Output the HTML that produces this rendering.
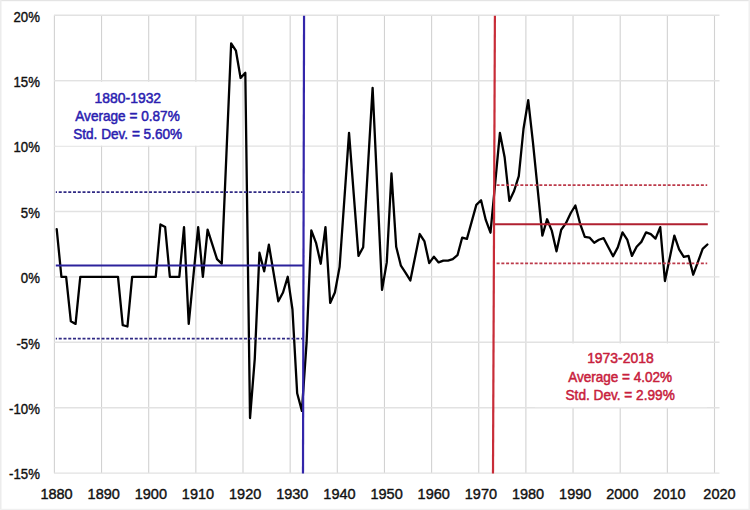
<!DOCTYPE html>
<html><head><meta charset="utf-8">
<style>
html,body{margin:0;padding:0;background:#fff;}
body{width:750px;height:510px;overflow:hidden;position:relative;}
svg{position:absolute;left:0;top:0;display:block;}
text{font-family:"Liberation Sans",sans-serif;}
</style></head><body>
<svg width="750" height="510" viewBox="0 0 750 510">
<rect x="0" y="0" width="750" height="510" fill="#ffffff"/>
<rect x="0" y="0" width="750" height="1.2" fill="#e4e4e4"/>
<rect x="0" y="0" width="1.5" height="510" fill="#ececec"/>
<rect x="0" y="508.8" width="750" height="1.2" fill="#f0f0f0"/>
<rect x="748.5" y="0" width="1.5" height="510" fill="#f0f0f0"/>
<g stroke="#d8d8d8" stroke-width="1.3" fill="none">
<line x1="54.40" y1="15.20" x2="54.40" y2="473.00" stroke="#d2d2d2" stroke-width="1.1"/>
<line x1="101.55" y1="15.20" x2="101.55" y2="473.00" stroke="#d2d2d2" stroke-width="1.1"/>
<line x1="148.70" y1="15.20" x2="148.70" y2="473.00" stroke="#d2d2d2" stroke-width="1.1"/>
<line x1="195.85" y1="15.20" x2="195.85" y2="473.00" stroke="#d2d2d2" stroke-width="1.1"/>
<line x1="243.00" y1="15.20" x2="243.00" y2="473.00" stroke="#d2d2d2" stroke-width="1.1"/>
<line x1="290.15" y1="15.20" x2="290.15" y2="473.00" stroke="#d2d2d2" stroke-width="1.1"/>
<line x1="337.30" y1="15.20" x2="337.30" y2="473.00" stroke="#d2d2d2" stroke-width="1.1"/>
<line x1="384.45" y1="15.20" x2="384.45" y2="473.00" stroke="#d2d2d2" stroke-width="1.1"/>
<line x1="431.60" y1="15.20" x2="431.60" y2="473.00" stroke="#d2d2d2" stroke-width="1.1"/>
<line x1="478.75" y1="15.20" x2="478.75" y2="473.00" stroke="#d2d2d2" stroke-width="1.1"/>
<line x1="525.90" y1="15.20" x2="525.90" y2="473.00" stroke="#d2d2d2" stroke-width="1.1"/>
<line x1="573.05" y1="15.20" x2="573.05" y2="473.00" stroke="#d2d2d2" stroke-width="1.1"/>
<line x1="620.20" y1="15.20" x2="620.20" y2="473.00" stroke="#d2d2d2" stroke-width="1.1"/>
<line x1="667.35" y1="15.20" x2="667.35" y2="473.00" stroke="#d2d2d2" stroke-width="1.1"/>
<line x1="714.50" y1="15.20" x2="714.50" y2="473.00" stroke="#d2d2d2" stroke-width="1.1"/>
<line x1="53.95" y1="15.30" x2="719.5" y2="15.30" stroke="#e2e2e2" stroke-width="1.4"/>
<line x1="53.95" y1="80.70" x2="719.5" y2="80.70" stroke="#e2e2e2" stroke-width="1.4"/>
<line x1="53.95" y1="146.10" x2="719.5" y2="146.10" stroke="#e2e2e2" stroke-width="1.4"/>
<line x1="53.95" y1="211.50" x2="719.5" y2="211.50" stroke="#e2e2e2" stroke-width="1.4"/>
<line x1="53.95" y1="276.90" x2="719.5" y2="276.90" stroke="#e2e2e2" stroke-width="1.4"/>
<line x1="53.95" y1="342.30" x2="719.5" y2="342.30" stroke="#e2e2e2" stroke-width="1.4"/>
<line x1="53.95" y1="407.70" x2="719.5" y2="407.70" stroke="#e2e2e2" stroke-width="1.4"/>
<line x1="53.95" y1="473.10" x2="719.5" y2="473.10" stroke="#e2e2e2" stroke-width="1.4"/>
</g>
<rect x="55.6" y="81.80" width="144" height="63.80" fill="#ffffff"/>
<rect x="535" y="343.40" width="172" height="63.80" fill="#ffffff"/>
<g font-size="14.5" fill="#111111" stroke="#111111" stroke-width="0.4">
<text x="39.9" y="21.60" text-anchor="end" textLength="26.40" lengthAdjust="spacingAndGlyphs">20%</text>
<text x="39.9" y="87.00" text-anchor="end" textLength="26.40" lengthAdjust="spacingAndGlyphs">15%</text>
<text x="39.9" y="152.40" text-anchor="end" textLength="26.40" lengthAdjust="spacingAndGlyphs">10%</text>
<text x="39.9" y="217.80" text-anchor="end" textLength="19.07" lengthAdjust="spacingAndGlyphs">5%</text>
<text x="39.9" y="283.20" text-anchor="end" textLength="19.07" lengthAdjust="spacingAndGlyphs">0%</text>
<text x="39.9" y="348.60" text-anchor="end" textLength="23.46" lengthAdjust="spacingAndGlyphs">-5%</text>
<text x="39.9" y="414.00" text-anchor="end" textLength="30.80" lengthAdjust="spacingAndGlyphs">-10%</text>
<text x="39.9" y="479.40" text-anchor="end" textLength="30.80" lengthAdjust="spacingAndGlyphs">-15%</text>
<text x="56.55" y="498.6" text-anchor="middle">1880</text>
<text x="103.70" y="498.6" text-anchor="middle">1890</text>
<text x="150.85" y="498.6" text-anchor="middle">1900</text>
<text x="198.00" y="498.6" text-anchor="middle">1910</text>
<text x="245.15" y="498.6" text-anchor="middle">1920</text>
<text x="292.30" y="498.6" text-anchor="middle">1930</text>
<text x="339.45" y="498.6" text-anchor="middle">1940</text>
<text x="386.60" y="498.6" text-anchor="middle">1950</text>
<text x="433.75" y="498.6" text-anchor="middle">1960</text>
<text x="480.90" y="498.6" text-anchor="middle">1970</text>
<text x="528.05" y="498.6" text-anchor="middle">1980</text>
<text x="575.20" y="498.6" text-anchor="middle">1990</text>
<text x="622.35" y="498.6" text-anchor="middle">2000</text>
<text x="669.50" y="498.6" text-anchor="middle">2010</text>
<text x="719.45" y="498.6" text-anchor="middle">2020</text>
</g>
<g fill="#2a20b0" stroke="#2a20b0" stroke-width="0.5" font-size="14.5" text-anchor="middle" lengthAdjust="spacingAndGlyphs">
<text x="127.85" y="102.6" textLength="66.5" lengthAdjust="spacingAndGlyphs">1880-1932</text>
<text x="127.5" y="121.0" textLength="104.5" lengthAdjust="spacingAndGlyphs">Average = 0.87%</text>
<text x="127.7" y="139.4" textLength="109" lengthAdjust="spacingAndGlyphs">Std. Dev. = 5.60%</text>
</g>
<g fill="#c8203c" stroke="#c8203c" stroke-width="0.5" font-size="14.5" text-anchor="middle">
<text x="620.4" y="363.3" textLength="66.5" lengthAdjust="spacingAndGlyphs">1973-2018</text>
<text x="620.15" y="381.8" textLength="104" lengthAdjust="spacingAndGlyphs">Average = 4.02%</text>
<text x="620.15" y="399.6" textLength="109.3" lengthAdjust="spacingAndGlyphs">Std. Dev. = 2.99%</text>
</g>
<polyline fill="none" stroke="#000000" stroke-width="2.3" stroke-linejoin="round" stroke-linecap="round" points="56.71,229.19 61.42,276.80 66.14,276.80 70.85,321.27 75.57,323.89 80.28,276.80 85.00,276.80 89.71,276.80 94.43,276.80 99.14,276.80 103.86,276.80 108.57,276.80 113.29,276.80 118.00,276.80 122.72,325.20 127.43,326.50 132.15,276.80 136.86,276.80 141.58,276.80 146.29,276.80 151.01,276.80 155.72,276.80 160.44,224.48 165.15,227.10 169.87,276.80 174.58,276.80 179.30,276.80 184.01,227.10 188.73,323.89 193.44,275.49 198.16,227.10 202.87,276.80 207.59,229.71 212.30,244.43 217.02,259.14 221.73,263.72 226.45,153.52 231.16,43.32 235.88,50.52 240.59,77.98 245.31,72.75 250.02,418.06 254.74,359.20 259.45,252.73 264.17,271.31 268.88,244.75 273.60,273.01 278.31,301.26 283.03,292.50 287.74,276.80 292.46,309.50 297.17,393.21 301.89,410.87 306.60,342.20 311.32,230.37 316.03,242.79 320.75,263.72 325.46,227.10 330.18,302.96 334.89,292.50 339.61,266.86 344.32,199.89 349.04,132.92 353.75,194.40 358.47,255.87 363.18,247.24 367.90,167.52 372.61,87.79 377.33,188.84 382.04,289.88 386.76,262.41 391.47,173.47 396.19,246.72 400.90,265.68 405.62,272.88 410.33,280.46 415.05,257.25 419.76,234.03 424.48,241.48 429.19,263.07 433.91,256.66 438.62,262.41 443.34,260.58 448.05,260.58 452.77,259.14 457.48,255.22 462.20,237.56 466.91,238.87 471.63,221.86 476.34,204.86 481.06,200.28 485.77,219.90 490.49,232.72 495.20,182.82 499.92,132.92 504.63,157.25 509.35,200.94 514.06,191.00 518.78,176.08 523.49,129.00 528.21,100.22 532.92,142.08 537.64,188.84 542.35,235.60 547.07,219.25 551.78,230.63 556.50,251.29 561.21,229.71 565.93,223.17 570.64,213.23 575.36,205.51 580.07,223.56 584.79,236.91 589.50,237.56 594.22,242.79 598.93,239.78 603.65,238.21 608.36,247.24 613.08,256.26 617.79,247.37 622.51,232.33 627.22,239.52 631.94,255.87 636.65,246.72 641.37,241.88 646.08,232.33 650.80,234.16 655.51,238.61 660.23,227.10 664.94,280.99 669.66,258.29 674.37,235.60 679.09,249.33 683.80,256.92 688.52,255.87 693.23,274.71 697.95,261.82 702.66,248.94 707.38,244.49"/>
<g stroke="#2c229c" fill="none" stroke-width="2.0">
<line x1="55.80" y1="265.42" x2="303.6" y2="265.42"/>
</g>
<g stroke="#302a84" fill="none" stroke-width="1.7" stroke-dasharray="3 1.75" stroke-dashoffset="1.8">
<line x1="55.80" y1="192.17" x2="302.6" y2="192.17"/>
<line x1="55.80" y1="338.67" x2="302.6" y2="338.67"/>
</g>
<line x1="304.05" y1="15.8" x2="303.0" y2="473.6" stroke="#3326aa" stroke-width="2.2"/>
<g stroke="#b02030" fill="none" stroke-width="2.0">
<line x1="494.5" y1="224.22" x2="707.80" y2="224.22"/>
</g>
<g stroke="#bc3a4a" fill="none" stroke-width="1.7" stroke-dasharray="3 1.75">
<line x1="496.6" y1="185.11" x2="707.2" y2="185.11"/>
<line x1="496.6" y1="263.33" x2="707.2" y2="263.33"/>
</g>
<line x1="494.9" y1="15.8" x2="493.0" y2="473.6" stroke="#c82c38" stroke-width="2.2"/>
</svg>
</body></html>
